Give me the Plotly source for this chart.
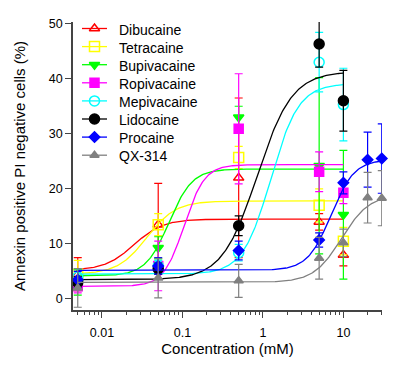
import numpy as np
import plotly.graph_objects as go

# ---- data ----
conc5 = [0.005, 0.05, 0.5, 5, 10]
conc7 = [0.005, 0.05, 0.5, 5, 10, 20, 30]

dibucaine = [4.5, 13.5, 22.0, 14.0, 8.0]
dibucaine_err = [3.0, 7.5, 14.5, 1.5, 2.0]
tetracaine = [4.5, 13.5, 25.7, 17.0, 10.5]
tetracaine_err = [2.5, 2.0, 2.0, 3.0, 2.5]
bupivacaine = [3.0, 9.3, 33.0, 24.2, 15.3]
bupivacaine_err = [2.3, 2.0, 2.0, 16.0, 11.7]
ropivacaine = [2.3, 6.0, 30.9, 23.1, 19.3]
ropivacaine_err = [1.2, 4.5, 10.0, 3.6, 2.0]
mepivacaine = [4.0, 6.0, 8.4, 43.0, 35.3]
mepivacaine_err = [1.5, 1.0, 1.5, 5.4, 6.6]
lidocaine = [3.0, 5.5, 13.3, 46.3, 36.0]
lidocaine_err = [1.0, 1.0, 1.8, 4.2, 5.5]
procaine = [3.5, 6.0, 8.8, 10.7, 21.1, 25.3, 25.5]
procaine_err = [1.5, 1.5, 1.7, 1.3, 2.0, 5.0, 6.3]
qx314 = [2.0, 3.8, 3.3, 7.4, 10.2, 18.4, 18.3]
qx314_err = [3.5, 3.6, 3.0, 3.8, 2.5, 4.6, 5.0]

# Hill-fit parameters: bottom, top, EC50 (mM), slope
fit_bottom = [5.2, 4.5, 4.2, 2.3, 4.5, 3.5, 5.2, 3.0]
fit_top = [14.5, 17.8, 23.6, 24.4, 39.1, 41.3, 25.3, 19.0]
fit_ec50 = [0.025, 0.036, 0.068, 0.105, 1.25, 0.85, 7.0, 9.5]
fit_hill = [2.4, 2.4, 3.0, 3.4, 2.5, 2.0, 3.0, 2.5]

names = ["Dibucaine", "Tetracaine", "Bupivacaine", "Ropivacaine",
         "Mepivacaine", "Lidocaine", "Procaine", "QX-314"]
x_tick_vals = [0.01, 0.1, 1, 10]
x_tick_text = ["0.01", "0.1", "1", "10"]
y_tick_vals = [0, 10, 20, 30, 40, 50]

series = [
    (conc5, dibucaine, dibucaine_err),
    (conc5, tetracaine, tetracaine_err),
    (conc5, bupivacaine, bupivacaine_err),
    (conc5, ropivacaine, ropivacaine_err),
    (conc5, mepivacaine, mepivacaine_err),
    (conc5, lidocaine, lidocaine_err),
    (conc7, procaine, procaine_err),
    (conc7, qx314, qx314_err),
]

colors = ["#FF0000", "#FFFF00", "#00FF00", "#FF00FF",
          "#00FFFF", "#000000", "#0000FF", "#808080"]
symbols = ["triangle-up-open", "square-open", "triangle-down", "square",
           "circle-open", "circle", "diamond", "triangle-up"]
sizes = [9, 10, 9, 9, 10, 10, 8, 8]

# plot area in page pixels (layout only); the page body has an 8px margin
PL, PR, PT, PB = 73, 382, 22, 310
OFF = 8
W, H = 400 - OFF, 370 - OFF

fig = go.Figure()

for i, (xs, ys, es) in enumerate(series):
    c = colors[i]
    xf = np.logspace(np.log10(xs[0]), np.log10(xs[-1]), 300)
    yf = fit_bottom[i] + (fit_top[i] - fit_bottom[i]) / (1 + (fit_ec50[i] / xf) ** fit_hill[i])
    fig.add_trace(go.Scatter(x=xf, y=yf, mode="lines", line=dict(color=c, width=1.3),
                             showlegend=False, hoverinfo="skip"))
    fig.add_trace(go.Scatter(
        x=xs, y=ys, mode="markers", name=names[i],
        marker=dict(symbol=symbols[i], size=sizes[i], color=c,
                    line=dict(color=c, width=1.5)),
        error_y=dict(type="data", array=es, visible=True, color=c,
                     thickness=1.2, width=4),
        showlegend=False, cliponaxis=False))

# ---- legend drawn in a pixel-based overlay axis (layout, not data) ----
leg_y0, leg_dy = 28.5, 18.1
leg_line_x = [82, 107]
leg_sym_x = 94.5
leg_text_x = 117
for i, nm in enumerate(names):
    c = colors[i]
    py = leg_y0 + leg_dy * i
    fig.add_trace(go.Scatter(x=leg_line_x, y=[py, py], mode="lines",
                             line=dict(color=c, width=1.3), xaxis="x2", yaxis="y2",
                             showlegend=False, hoverinfo="skip"))
    fig.add_trace(go.Scatter(x=[leg_sym_x], y=[py], mode="markers",
                             marker=dict(symbol=symbols[i], size=sizes[i], color=c,
                                         line=dict(color=c, width=1.5)),
                             xaxis="x2", yaxis="y2", showlegend=False, hoverinfo="skip"))
    fig.add_annotation(x=leg_text_x, y=py + 1, xref="x2", yref="y2", text=nm,
                       showarrow=False, xanchor="left", yanchor="middle",
                       font=dict(size=14, color="black"))

axis_col = "#444444"
minor_vals = []
for dec in [0.001, 0.01, 0.1, 1, 10]:
    for m in range(2, 10):
        minor_vals.append(round(dec * m, 6))

fig.update_layout(
    width=W, height=H,
    margin=dict(l=PL - OFF, r=W - (PR - OFF), t=PT - OFF, b=H - (PB - OFF),
                autoexpand=False),
    paper_bgcolor="white", plot_bgcolor="white",
    font=dict(family="Liberation Sans, Arial, sans-serif", size=12.5, color="black"),
    showlegend=False,
    xaxis=dict(type="log", range=[-2.36, 1.48], automargin=False,
               tickvals=x_tick_vals, ticktext=x_tick_text,
               ticks="outside", ticklen=6, tickwidth=1.2, tickcolor=axis_col,
               ticklabelstandoff=4,
               showline=True, linecolor=axis_col, linewidth=1.5,
               showgrid=False, zeroline=False,
               minor=dict(tickvals=minor_vals, ticks="outside", ticklen=3,
                          tickwidth=1.2, tickcolor=axis_col, showgrid=False),
               title=dict(text="Concentration (mM)", font=dict(size=15), standoff=4)),
    yaxis=dict(range=[-2, 50.3], tickvals=y_tick_vals, automargin=False,
               ticks="outside", ticklen=6, tickwidth=1.2, tickcolor=axis_col,
               showline=True, linecolor=axis_col, linewidth=1.5,
               showgrid=False, zeroline=False,
               title=dict(text="Annexin positive PI negative cells (%)",
                          font=dict(size=15), standoff=20)),
    xaxis2=dict(overlaying="x", range=[PL, PR], visible=False, anchor="y2"),
    yaxis2=dict(overlaying="y", range=[PB, PT], visible=False, anchor="x2"),
)

fig.write_html("out.html")
